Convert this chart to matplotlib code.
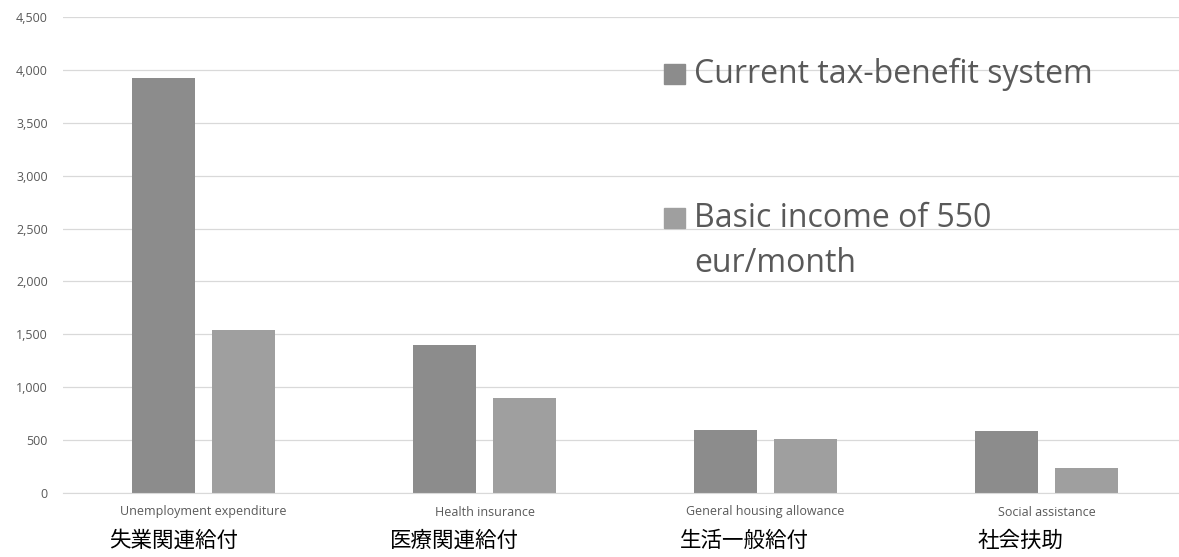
import numpy as np
import matplotlib.pyplot as plt
from matplotlib.patches import Rectangle

# datos
categorias = ['Unemployment expenditure', 'Health insurance',
              'General housing allowance', 'Social assistance']
categorias_jp = ['失業関連給付', '医療関連給付', '生活一般給付', '社会扶助']
actual = [3920, 1400, 600, 585]
renta_basica = [1545, 900, 510, 240]
series = ['Current tax-benefit system', 'Basic income of 550\neur/month']
colores = ['#8c8c8c', '#9f9f9f']
yticks = [0, 500, 1000, 1500, 2000, 2500, 3000, 3500, 4000, 4500]

plt.rcParams['font.family'] = ['Open Sans', 'DejaVu Sans']

fig = plt.figure(figsize=(11.79, 5.57), dpi=100)
# ejes en pixeles: izquierda 63, derecha 1179, abajo 493 (desde arriba), arriba 17
ax = fig.add_axes([63 / 1179, (557 - 493) / 557, (1179 - 63) / 1179, (493 - 17) / 557])

x = np.arange(len(categorias))
ancho = 0.224
sep = 0.1423
ax.bar(x - sep, actual, ancho, color=colores[0], zorder=2)
ax.bar(x + sep, renta_basica, ancho, color=colores[1], zorder=2)

ax.set_xlim(-0.5, 3.4715)
ax.set_ylim(0, 4500)
ax.set_yticks(yticks)
ax.set_yticklabels([f'{v:,}' for v in yticks], fontsize=9, color='#595959')
ax.set_xticks(x)
ax.set_xticklabels(categorias, fontsize=9, color='#595959')
ax.tick_params(axis='both', length=0)
ax.tick_params(axis='y', pad=11)
ax.tick_params(axis='x', pad=9)
ax.grid(axis='y', color='#d9d9d9', linewidth=0.9, zorder=0)
for s in ['top', 'right', 'left']:
    ax.spines[s].set_visible(False)
ax.spines['bottom'].set_color('#d9d9d9')

# etiquetas en japones (cuadros de texto)
desplaz = [-0.336, -0.336, -0.304, -0.244]
for i, (t, d) in enumerate(zip(categorias_jp, desplaz)):
    ax.text(i + d, -0.101, t, transform=ax.get_xaxis_transform(),
            fontsize=15.5, color='black', ha='left', va='center',
            family=['Noto Sans CJK JP', 'DejaVu Sans'])

# leyenda manual
ley_y = [74, 218]
for txt, col, yy in zip(series, colores, ley_y):
    fig.add_artist(Rectangle((664 / 1179, (557 - yy - 10) / 557), 21 / 1179, 20 / 557,
                             transform=fig.transFigure, color=col))
    for k, linea in enumerate(txt.split('\n')):
        fig.text(694 / 1179, (557 - yy - 45 * k) / 557, linea, fontsize=23,
                 color='#595959', ha='left', va='center')

fig.savefig('out.png', dpi=100)
